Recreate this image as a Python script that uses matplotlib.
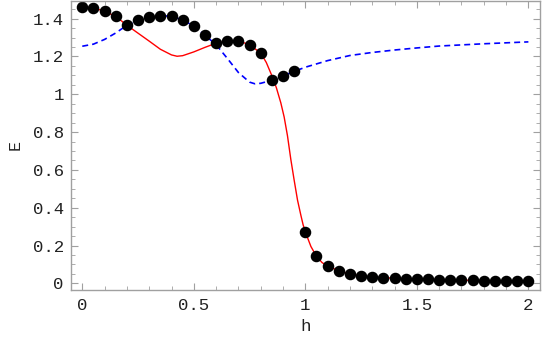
import matplotlib
matplotlib.use('Agg')
import matplotlib.pyplot as plt
from matplotlib.ticker import MultipleLocator

# black dots, h = 0, 0.05, ..., 2.0
dot_h = [i * 0.05 for i in range(41)]
dot_E = [1.461, 1.458, 1.438, 1.412, 1.365, 1.391, 1.410, 1.416, 1.412, 1.393,
         1.361, 1.312, 1.271, 1.282, 1.282, 1.262, 1.218, 1.074, 1.097, 1.121,
         0.269, 0.143, 0.091, 0.067, 0.049, 0.040, 0.033, 0.030, 0.027, 0.025,
         0.023, 0.021, 0.019, 0.018, 0.017, 0.016, 0.015, 0.014, 0.013, 0.012,
         0.011]

# red solid curve
red_h = [0, 0.05, 0.1, 0.15, 0.2, 0.25, 0.3, 0.35, 0.4, 0.425, 0.45, 0.5,
         0.55, 0.6, 0.65, 0.7, 0.75, 0.8, 0.825, 0.85, 0.87, 0.89, 0.905,
         0.92, 0.935, 0.95, 0.965, 0.98, 0.99, 1.0, 1.025, 1.05, 1.075, 1.1,
         1.15, 1.2, 1.25, 1.3, 1.4, 1.5, 1.6, 1.7, 1.8, 1.9, 2.0]
red_E = [1.461, 1.458, 1.438, 1.412, 1.365, 1.323, 1.281, 1.238, 1.208, 1.201,
         1.204, 1.224, 1.248, 1.270, 1.281, 1.282, 1.262, 1.218, 1.168, 1.098,
         1.035, 0.955, 0.880, 0.780, 0.655, 0.545, 0.440, 0.360, 0.310, 0.272,
         0.195, 0.143, 0.110, 0.091, 0.067, 0.049, 0.040, 0.033, 0.027, 0.023,
         0.019, 0.017, 0.015, 0.013, 0.011]

# blue dashed curve
blue_h = [0, 0.05, 0.1, 0.15, 0.2, 0.25, 0.3, 0.35, 0.4, 0.45, 0.5, 0.55,
          0.6, 0.65, 0.7, 0.75, 0.775, 0.8, 0.85, 0.9, 0.95, 1.0, 1.1, 1.2,
          1.3, 1.4, 1.5, 1.6, 1.7, 1.8, 1.9, 2.0]
blue_E = [1.254, 1.265, 1.290, 1.324, 1.365, 1.391, 1.410, 1.416, 1.412, 1.393,
          1.361, 1.312, 1.262, 1.190, 1.115, 1.064, 1.055, 1.058, 1.074, 1.097,
          1.121, 1.143, 1.178, 1.205, 1.221, 1.234, 1.245, 1.255, 1.261, 1.267,
          1.272, 1.277]

plt.rcParams['lines.scale_dashes'] = False
plt.rcParams['font.family'] = ['Liberation Mono', 'DejaVu Sans Mono']

fig = plt.figure(figsize=(5.45, 3.37), dpi=100)
ax = fig.add_axes([0.1297, 0.1395, 0.8611, 0.858])

ax.plot(red_h, red_E, color='#ff0000', lw=1.0)
ax.plot(blue_h, blue_E, color='#0000ff', lw=1.2, dashes=(4.3, 2.9))
ax.plot(dot_h, dot_E, 'o', color='black', markersize=7.3)

ax.set_xlim(-0.052, 2.052)
ax.set_ylim(-0.035, 1.494)

ax.xaxis.set_minor_locator(MultipleLocator(0.1))
ax.yaxis.set_minor_locator(MultipleLocator(0.05))
ax.set_xticks([0, 0.5, 1, 1.5, 2])
ax.set_xticklabels(['0', '0.5', '1', '1.5', '2'])
ax.set_yticks([0, 0.2, 0.4, 0.6, 0.8, 1.0, 1.2, 1.4])
ax.set_yticklabels(['0', '0.2', '0.4', '0.6', '0.8', '1', '1.2', '1.4'])

frame_col = '#a0a0a0'
for s in ax.spines.values():
    s.set_color(frame_col)
    s.set_linewidth(1.0)
ax.tick_params(which='both', direction='in', top=True, right=True,
               color=frame_col, labelsize=12.5, labelcolor='#222222')
ax.tick_params(which='major', length=5, width=0.8)
ax.tick_params(which='minor', length=3, width=0.6)
ax.tick_params(axis='x', pad=6)
ax.tick_params(axis='y', pad=5)

ax.set_xlabel('h', fontsize=12.5, color='#222222', labelpad=4)
ax.set_ylabel('E', fontsize=12, color='#222222', labelpad=7)

fig.savefig('out.png', dpi=100)
